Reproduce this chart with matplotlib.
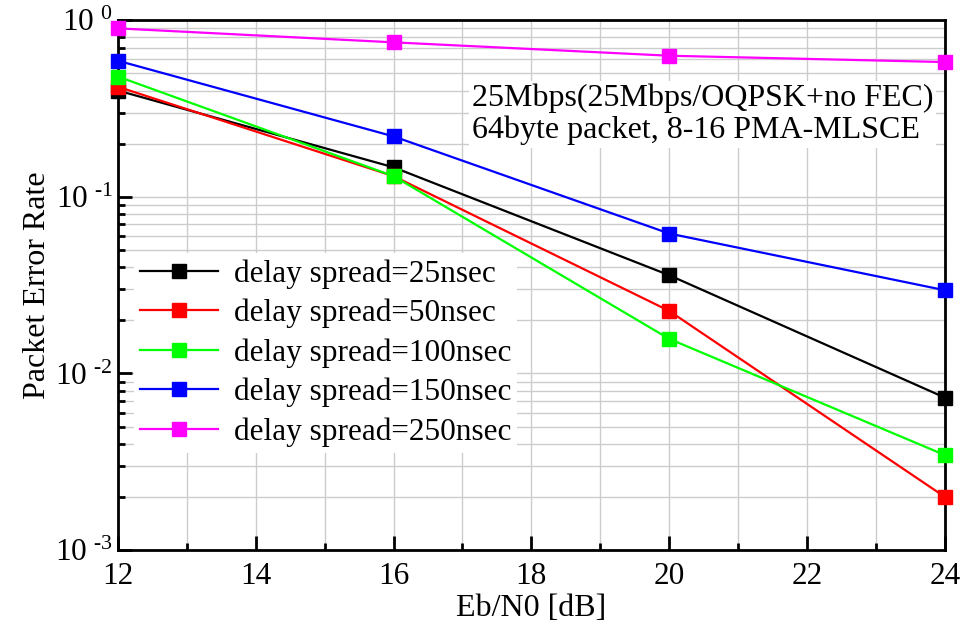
import numpy as np
import matplotlib
matplotlib.use("Agg")
import matplotlib.pyplot as plt
from matplotlib.ticker import LogLocator, FixedLocator, FuncFormatter, NullFormatter

plt.rcParams['font.family'] = ['Liberation Serif', 'DejaVu Serif']
plt.rcParams['mathtext.fontset'] = 'custom'
plt.rcParams['mathtext.rm'] = 'Liberation Serif'

# data
ebn0 = [12, 16, 20, 24]
per_25 = [0.40, 0.147, 0.036, 0.0073]
per_50 = [0.42, 0.131, 0.0226, 0.0020]
per_100 = [0.48, 0.131, 0.0157, 0.00345]
per_150 = [0.59, 0.22, 0.062, 0.0296]
per_250 = [0.90, 0.75, 0.63, 0.58]

labels = ['delay spread=25nsec', 'delay spread=50nsec', 'delay spread=100nsec',
          'delay spread=150nsec', 'delay spread=250nsec']
colors = ['#000000', '#ff0000', '#00ff00', '#0000ff', '#ff00ff']
series = [per_25, per_50, per_100, per_150, per_250]

fig = plt.figure(figsize=(9.67, 6.34), dpi=100)
ax = fig.add_axes([0.122, 0.1325, 0.855, 0.8355])

for y, c, lab in zip(series, colors, labels):
    ax.plot(ebn0, y, color=c, lw=1.6, marker='s', ms=9.5, label=lab,
            clip_on=False, zorder=3)

ax.set_yscale('log')
ax.set_xlim(12, 24)
ax.set_ylim(1e-3, 1)

ax.xaxis.set_major_locator(FixedLocator([12, 14, 16, 18, 20, 22, 24]))
ax.xaxis.set_minor_locator(FixedLocator([13, 15, 17, 19, 21, 23]))
ax.yaxis.set_major_locator(LogLocator(base=10))
ax.yaxis.set_minor_locator(LogLocator(base=10, subs=np.arange(2, 10)))
ax.yaxis.set_minor_formatter(NullFormatter())


def fmt(v, pos):
    e = int(round(np.log10(v)))
    if e >= 0:
        return r'$\mathregular{10^{\ %d}}$' % e
    return r'$\mathregular{10^{\ \text{-}%d}}$' % (-e)


ax.yaxis.set_major_formatter(FuncFormatter(fmt))

ax.grid(True, which='both', color='#cccccc', lw=1.0, zorder=0)
ax.set_axisbelow(True)

ax.tick_params(which='both', direction='in', top=False, right=False, labelsize=22.5, width=2)
ax.tick_params(which='major', length=10)
ax.tick_params(which='minor', length=5)
ax.tick_params(axis='x', pad=9)
for s in ax.spines.values():
    s.set_linewidth(2)

ax.set_xlabel('Eb/N0 [dB]', fontsize=23, labelpad=2)
ax.set_ylabel('Packet Error Rate', fontsize=23, labelpad=2)

ax.text(0.428, 0.88, '25Mbps(25Mbps/OQPSK+no FEC)\n64byte packet, 8-16 PMA-MLSCE',
        transform=ax.transAxes, fontsize=23, va='top', ha='left',
        linespacing=1.1, zorder=4,
        bbox=dict(facecolor='white', edgecolor='none', pad=2))

leg = ax.legend(loc='upper left', bbox_to_anchor=(0.0, 0.59), fontsize=22.5,
                frameon=True, framealpha=1, edgecolor='none', fancybox=False,
                numpoints=1, handlelength=2.5, labelspacing=0.32,
                borderpad=0.2, handletextpad=0.5)
leg.set_zorder(4)

fig.savefig('out.png', dpi=100)
